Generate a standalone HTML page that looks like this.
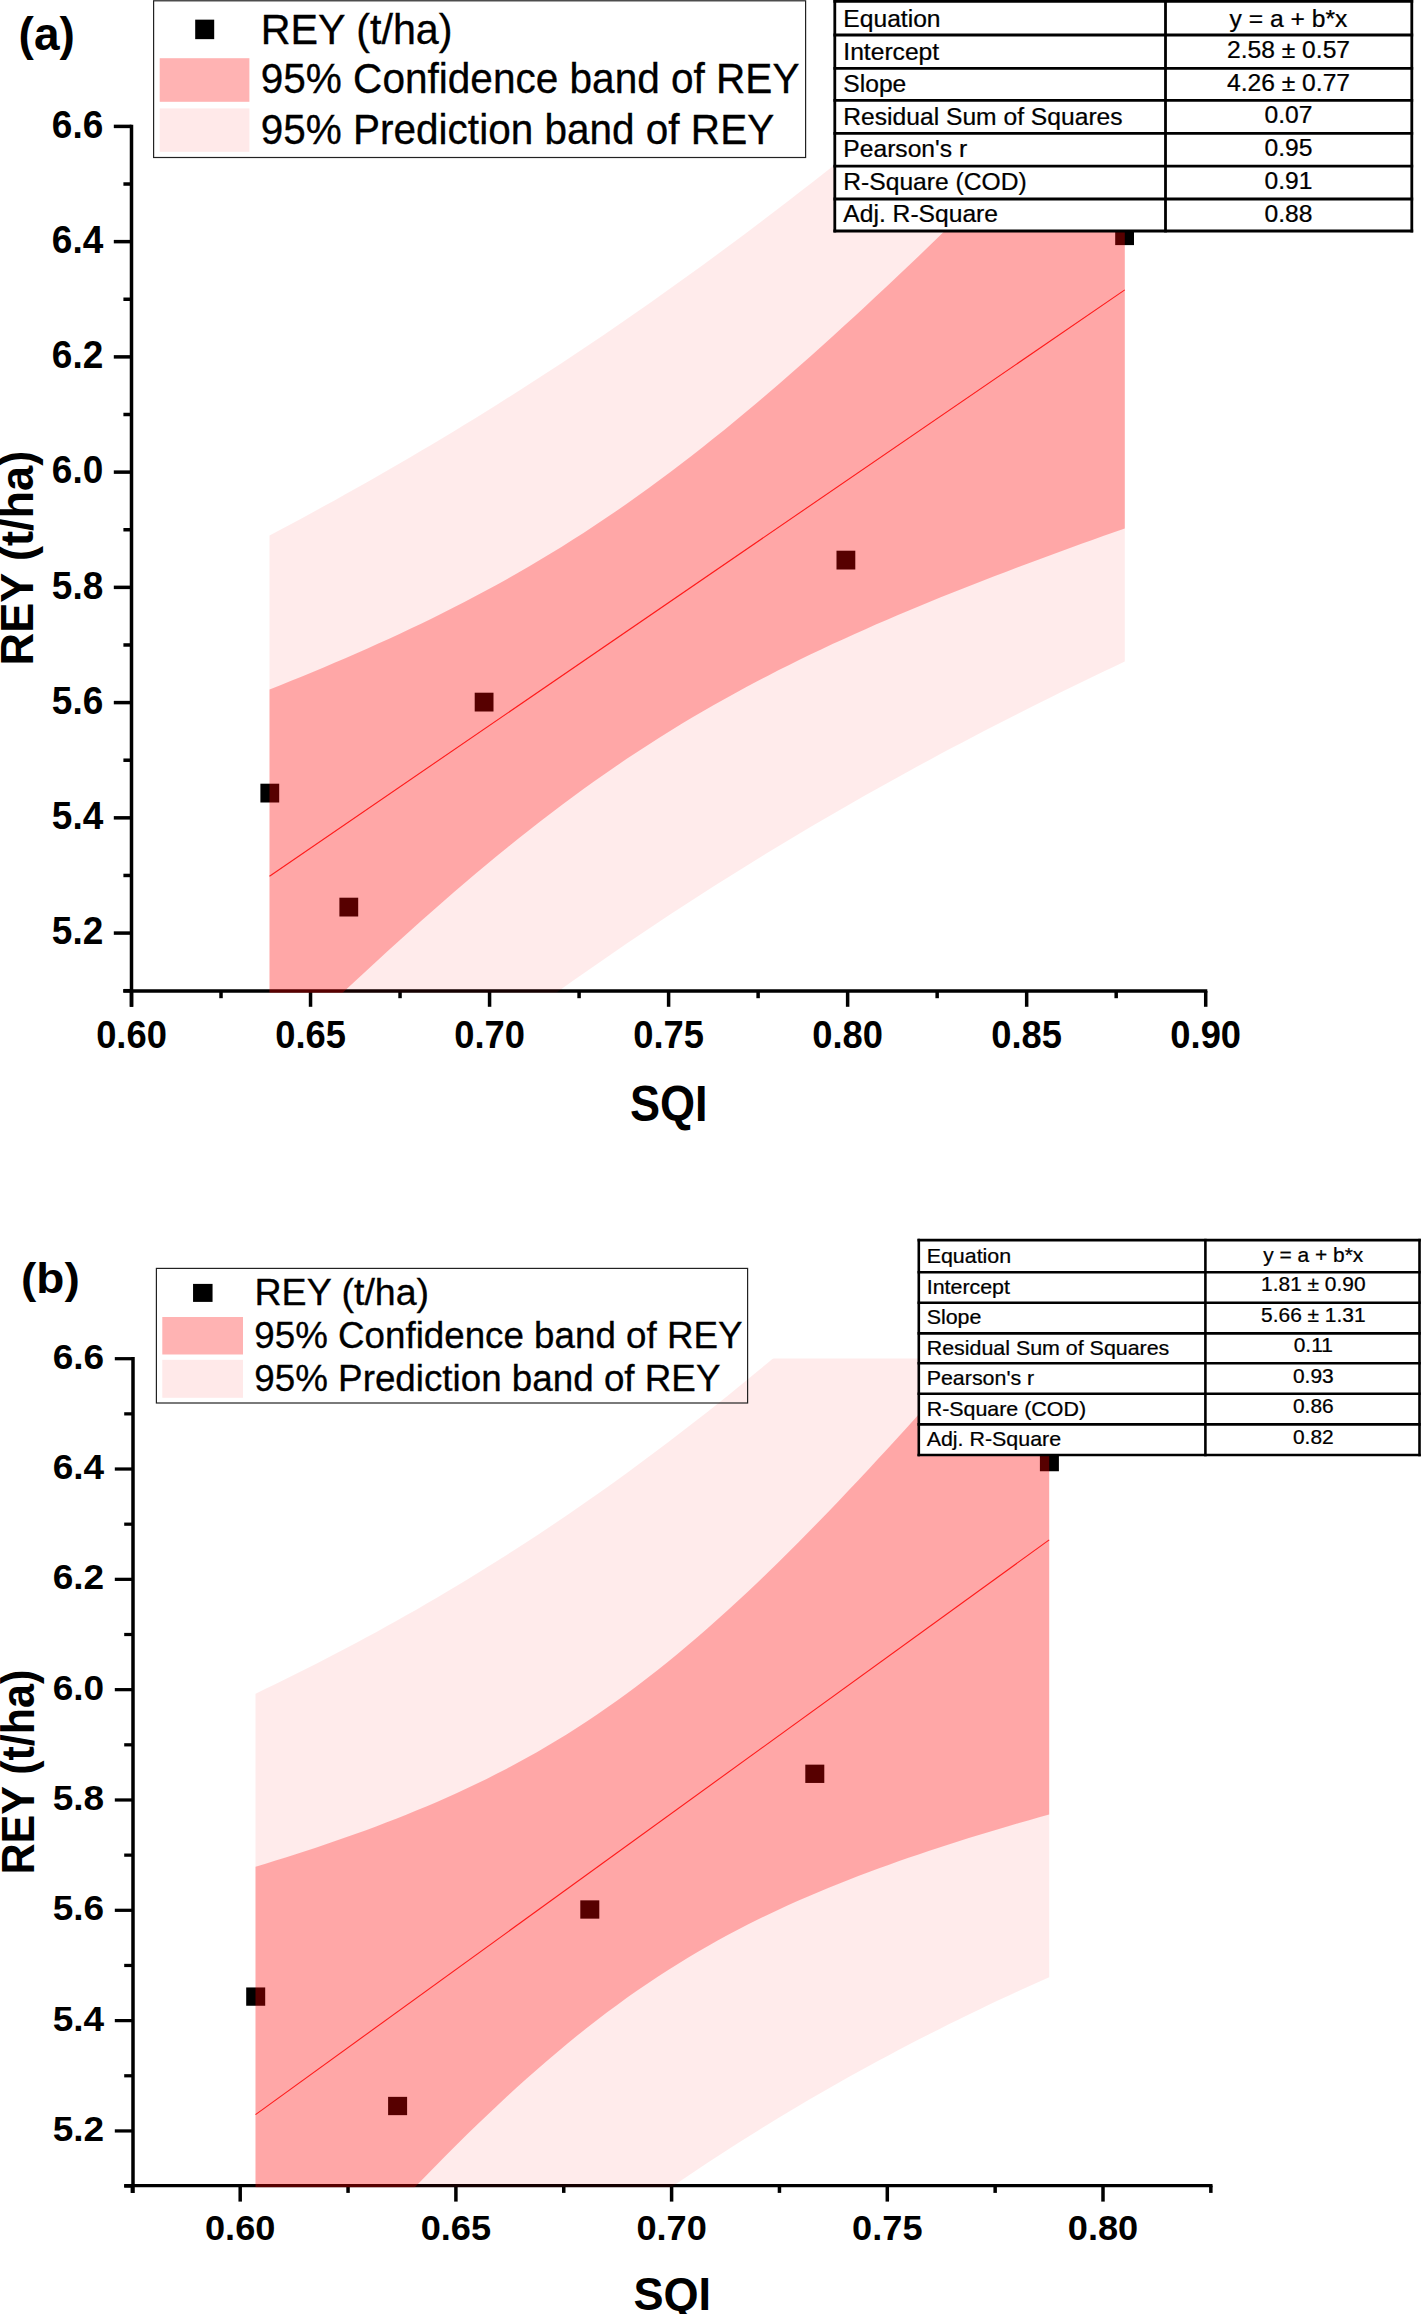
<!DOCTYPE html>
<html lang="en"><head><meta charset="utf-8"><title>REY vs SQI regression</title>
<style>html,body{margin:0;padding:0;background:#fff}body{width:1422px;height:2314px;overflow:hidden}svg{display:block}text{font-family:"Liberation Sans",Arial,Helvetica,sans-serif}</style></head><body>
<svg width="1422" height="2314" viewBox="0 0 1422 2314">
<rect x="0" y="0" width="1422" height="2314" fill="#fff"/>
<clipPath id="clipa"><rect x="0" y="126.4" width="1422" height="866.25"/></clipPath>
<g stroke="#000" stroke-width="3.5" fill="none" stroke-linecap="butt">
<line x1="131.5" y1="124.65" x2="131.5" y2="1006.8"/>
<line x1="123.3" y1="990.9" x2="1207.3" y2="990.9" stroke-width="3.5"/>
<line x1="113.8" y1="126.4" x2="131.5" y2="126.4" stroke-width="3.5"/>
<line x1="123.4" y1="184.02" x2="131.5" y2="184.02" stroke-width="3.5"/>
<line x1="113.8" y1="241.64" x2="131.5" y2="241.64" stroke-width="3.5"/>
<line x1="123.4" y1="299.26" x2="131.5" y2="299.26" stroke-width="3.5"/>
<line x1="113.8" y1="356.88" x2="131.5" y2="356.88" stroke-width="3.5"/>
<line x1="123.4" y1="414.5" x2="131.5" y2="414.5" stroke-width="3.5"/>
<line x1="113.8" y1="472.12" x2="131.5" y2="472.12" stroke-width="3.5"/>
<line x1="123.4" y1="529.74" x2="131.5" y2="529.74" stroke-width="3.5"/>
<line x1="113.8" y1="587.36" x2="131.5" y2="587.36" stroke-width="3.5"/>
<line x1="123.4" y1="644.98" x2="131.5" y2="644.98" stroke-width="3.5"/>
<line x1="113.8" y1="702.6" x2="131.5" y2="702.6" stroke-width="3.5"/>
<line x1="123.4" y1="760.22" x2="131.5" y2="760.22" stroke-width="3.5"/>
<line x1="113.8" y1="817.84" x2="131.5" y2="817.84" stroke-width="3.5"/>
<line x1="123.4" y1="875.46" x2="131.5" y2="875.46" stroke-width="3.5"/>
<line x1="113.8" y1="933.08" x2="131.5" y2="933.08" stroke-width="3.5"/>
<line x1="123.4" y1="990.7" x2="131.5" y2="990.7" stroke-width="3.5"/>
<line x1="131.5" y1="990.9" x2="131.5" y2="1006.8"/>
<line x1="221.02" y1="990.9" x2="221.02" y2="998.2"/>
<line x1="310.54" y1="990.9" x2="310.54" y2="1006.8"/>
<line x1="400.05" y1="990.9" x2="400.05" y2="998.2"/>
<line x1="489.57" y1="990.9" x2="489.57" y2="1006.8"/>
<line x1="579.09" y1="990.9" x2="579.09" y2="998.2"/>
<line x1="668.61" y1="990.9" x2="668.61" y2="1006.8"/>
<line x1="758.12" y1="990.9" x2="758.12" y2="998.2"/>
<line x1="847.64" y1="990.9" x2="847.64" y2="1006.8"/>
<line x1="937.16" y1="990.9" x2="937.16" y2="998.2"/>
<line x1="1026.67" y1="990.9" x2="1026.67" y2="1006.8"/>
<line x1="1116.19" y1="990.9" x2="1116.19" y2="998.2"/>
<line x1="1205.71" y1="990.9" x2="1205.71" y2="1006.8"/>
</g>
<rect x="260.4" y="783.7" width="18.8" height="18.8" fill="#000"/>
<rect x="339.4" y="897.7" width="18.8" height="18.8" fill="#000"/>
<rect x="474.7" y="692.7" width="18.8" height="18.8" fill="#000"/>
<rect x="836.5" y="550.7" width="18.8" height="18.8" fill="#000"/>
<rect x="1115.2" y="226.3" width="18.8" height="18.8" fill="#000"/>
<g clip-path="url(#clipa)">
<polygon points="269.5,535.47 280.33,529.74 291.15,523.96 301.98,518.14 312.81,512.27 323.63,506.35 334.46,500.38 345.29,494.37 356.11,488.3 366.94,482.19 377.77,476.02 388.59,469.8 399.42,463.53 410.25,457.21 421.07,450.83 431.9,444.4 442.73,437.92 453.55,431.38 464.38,424.78 475.21,418.13 486.03,411.43 496.86,404.67 507.68,397.85 518.51,390.97 529.34,384.04 540.16,377.05 550.99,370 561.82,362.89 572.64,355.73 583.47,348.5 594.3,341.22 605.12,333.88 615.95,326.48 626.78,319.02 637.6,311.51 648.43,303.93 659.26,296.3 670.08,288.61 680.91,280.86 691.74,273.05 702.56,265.18 713.39,257.26 724.22,249.28 735.04,241.24 745.87,233.15 756.7,225 767.52,216.79 778.35,208.53 789.18,200.21 800,191.84 810.83,183.41 821.66,174.94 832.48,166.4 843.31,157.82 854.14,149.18 864.96,140.49 875.79,131.75 886.62,122.96 897.44,114.13 908.27,105.24 919.09,96.3 929.92,87.32 940.75,78.29 951.57,69.21 962.4,60.09 973.23,50.92 984.05,41.71 994.88,32.45 1005.71,23.16 1016.53,13.82 1027.36,4.43 1038.19,-4.99 1049.01,-14.45 1059.84,-23.96 1070.67,-33.5 1081.49,-43.08 1092.32,-52.69 1103.15,-62.35 1113.97,-72.04 1124.8,-81.76 1124.8,661.59 1113.97,666.71 1103.15,671.87 1092.32,677.06 1081.49,682.28 1070.67,687.54 1059.84,692.85 1049.01,698.19 1038.19,703.57 1027.36,708.99 1016.53,714.45 1005.71,719.95 994.88,725.49 984.05,731.08 973.23,736.71 962.4,742.39 951.57,748.11 940.75,753.87 929.92,759.69 919.09,765.54 908.27,771.45 897.44,777.41 886.62,783.41 875.79,789.46 864.96,795.57 854.14,801.72 843.31,807.93 832.48,814.19 821.66,820.5 810.83,826.86 800,833.28 789.18,839.75 778.35,846.27 767.52,852.85 756.7,859.49 745.87,866.18 735.04,872.93 724.22,879.74 713.39,886.6 702.56,893.52 691.74,900.49 680.91,907.53 670.08,914.62 659.26,921.77 648.43,928.98 637.6,936.25 626.78,943.58 615.95,950.96 605.12,958.41 594.3,965.91 583.47,973.47 572.64,981.09 561.82,988.77 550.99,996.5 540.16,1004.3 529.34,1012.15 518.51,1020.06 507.68,1028.02 496.86,1036.05 486.03,1044.13 475.21,1052.26 464.38,1060.46 453.55,1068.71 442.73,1077.01 431.9,1085.37 421.07,1093.78 410.25,1102.25 399.42,1110.77 388.59,1119.34 377.77,1127.96 366.94,1136.64 356.11,1145.37 345.29,1154.14 334.46,1162.97 323.63,1171.85 312.81,1180.77 301.98,1189.74 291.15,1198.76 280.33,1207.83 269.5,1216.94" fill="#ff0000" fill-opacity="0.078"/>
<polygon points="269.5,689.51 280.33,685.19 291.15,680.83 301.98,676.41 312.81,671.94 323.63,667.41 334.46,662.83 345.29,658.18 356.11,653.47 366.94,648.69 377.77,643.84 388.59,638.91 399.42,633.91 410.25,628.82 421.07,623.64 431.9,618.38 442.73,613.02 453.55,607.56 464.38,602 475.21,596.33 486.03,590.55 496.86,584.65 507.68,578.64 518.51,572.5 529.34,566.24 540.16,559.85 550.99,553.32 561.82,546.66 572.64,539.86 583.47,532.92 594.3,525.84 605.12,518.62 615.95,511.25 626.78,503.74 637.6,496.08 648.43,488.29 659.26,480.35 670.08,472.27 680.91,464.06 691.74,455.71 702.56,447.23 713.39,438.62 724.22,429.88 735.04,421.02 745.87,412.05 756.7,402.96 767.52,393.76 778.35,384.45 789.18,375.04 800,365.54 810.83,355.94 821.66,346.25 832.48,336.47 843.31,326.62 854.14,316.68 864.96,306.67 875.79,296.59 886.62,286.45 897.44,276.24 908.27,265.96 919.09,255.63 929.92,245.25 940.75,234.81 951.57,224.32 962.4,213.79 973.23,203.21 984.05,192.58 994.88,181.92 1005.71,171.21 1016.53,160.47 1027.36,149.7 1038.19,138.89 1049.01,128.05 1059.84,117.18 1070.67,106.27 1081.49,95.35 1092.32,84.39 1103.15,73.41 1113.97,62.41 1124.8,51.38 1124.8,528.45 1113.97,532.27 1103.15,536.11 1092.32,539.97 1081.49,543.86 1070.67,547.77 1059.84,551.72 1049.01,555.69 1038.19,559.69 1027.36,563.72 1016.53,567.79 1005.71,571.89 994.88,576.03 984.05,580.21 973.23,584.43 962.4,588.69 951.57,593 940.75,597.35 929.92,601.76 919.09,606.21 908.27,610.73 897.44,615.3 886.62,619.93 875.79,624.62 864.96,629.39 854.14,634.22 843.31,639.13 832.48,644.12 821.66,649.18 810.83,654.34 800,659.58 789.18,664.92 778.35,670.35 767.52,675.89 756.7,681.53 745.87,687.28 735.04,693.15 724.22,699.13 713.39,705.24 702.56,711.47 691.74,717.83 680.91,724.33 670.08,730.96 659.26,737.72 648.43,744.63 637.6,751.67 626.78,758.86 615.95,766.19 605.12,773.67 594.3,781.29 583.47,789.05 572.64,796.95 561.82,805 550.99,813.18 540.16,821.5 529.34,829.95 518.51,838.53 507.68,847.23 496.86,856.06 486.03,865.01 475.21,874.07 464.38,883.25 453.55,892.53 442.73,901.91 431.9,911.39 421.07,920.97 410.25,930.64 399.42,940.39 388.59,950.23 377.77,960.15 366.94,970.14 356.11,980.2 345.29,990.33 334.46,1000.53 323.63,1010.78 312.81,1021.1 301.98,1031.47 291.15,1041.9 280.33,1052.37 269.5,1062.9" fill="#ff0000" fill-opacity="0.285"/>
<line x1="269.5" y1="876.21" x2="1124.8" y2="289.92" stroke="#ff1a1a" stroke-width="1.1"/>
</g>
<g font-weight="bold" font-size="37" fill="#000">
<text transform="translate(103.3,137.7) scale(1,1.03)" text-anchor="end">6.6</text>
<text transform="translate(103.3,252.94) scale(1,1.03)" text-anchor="end">6.4</text>
<text transform="translate(103.3,368.18) scale(1,1.03)" text-anchor="end">6.2</text>
<text transform="translate(103.3,483.42) scale(1,1.03)" text-anchor="end">6.0</text>
<text transform="translate(103.3,598.66) scale(1,1.03)" text-anchor="end">5.8</text>
<text transform="translate(103.3,713.9) scale(1,1.03)" text-anchor="end">5.6</text>
<text transform="translate(103.3,829.14) scale(1,1.03)" text-anchor="end">5.4</text>
<text transform="translate(103.3,944.38) scale(1,1.03)" text-anchor="end">5.2</text>
<text transform="translate(131.5,1047.9) scale(0.982,1.03)" text-anchor="middle">0.60</text>
<text transform="translate(310.54,1047.9) scale(0.982,1.03)" text-anchor="middle">0.65</text>
<text transform="translate(489.57,1047.9) scale(0.982,1.03)" text-anchor="middle">0.70</text>
<text transform="translate(668.61,1047.9) scale(0.982,1.03)" text-anchor="middle">0.75</text>
<text transform="translate(847.64,1047.9) scale(0.982,1.03)" text-anchor="middle">0.80</text>
<text transform="translate(1026.67,1047.9) scale(0.982,1.03)" text-anchor="middle">0.85</text>
<text transform="translate(1205.71,1047.9) scale(0.982,1.03)" text-anchor="middle">0.90</text>
</g>
<text transform="translate(668.8,1121.2) scale(1,1.09)" text-anchor="middle" font-weight="bold" font-size="45.1">SQI</text>
<text transform="translate(33.1,558.1) scale(1.026,1) rotate(-90)" text-anchor="middle" font-weight="bold" font-size="45.1">REY (t/ha)</text>
<text transform="translate(18.6,49.5) scale(1,1)" font-weight="bold" font-size="46">(a)</text>
<rect x="153.6" y="0.8" width="652" height="156.7" fill="none" stroke="#222" stroke-width="1.2"/>
<rect x="195.2" y="19.65" width="19" height="19.5" fill="#000"/>
<rect x="159.7" y="58.2" width="89.7" height="43.6" fill="#ffb3b3"/>
<rect x="159.7" y="108.4" width="89.7" height="43.4" fill="#ffe9e9"/>
<g font-size="39" fill="#000" stroke="#000" stroke-width="0.3">
<text transform="translate(260.7,44.05) scale(1.058,1.1)">REY (t/ha)</text>
<text transform="translate(260.7,93.35) scale(1.04,1.1)">95% Confidence band of REY</text>
<text transform="translate(260.7,143.85) scale(1.039,1.1)">95% Prediction band of REY</text>
</g>
<rect x="834.8" y="1.4" width="577" height="229.6" fill="#fff"/>
<g stroke="#000" stroke-width="2.8" fill="none" stroke-linecap="square">
<line x1="834.8" y1="1.4" x2="1411.8" y2="1.4"/>
<line x1="834.8" y1="35" x2="1411.8" y2="35"/>
<line x1="834.8" y1="68.4" x2="1411.8" y2="68.4"/>
<line x1="834.8" y1="100.4" x2="1411.8" y2="100.4"/>
<line x1="834.8" y1="133.3" x2="1411.8" y2="133.3"/>
<line x1="834.8" y1="166.2" x2="1411.8" y2="166.2"/>
<line x1="834.8" y1="199" x2="1411.8" y2="199"/>
<line x1="834.8" y1="231" x2="1411.8" y2="231"/>
<line x1="834.8" y1="1.4" x2="834.8" y2="231"/>
<line x1="1165.5" y1="1.4" x2="1165.5" y2="231"/>
<line x1="1411.8" y1="1.4" x2="1411.8" y2="231"/>
</g>
<g font-size="23.8" fill="#000" stroke="#000" stroke-width="0.25">
<text transform="translate(843.3,27) scale(1.035,1)">Equation</text>
<text transform="translate(1288.5,26.7) scale(1.035,1)" text-anchor="middle">y = a + b*x</text>
<text transform="translate(843.3,59.53) scale(1.035,1)">Intercept</text>
<text transform="translate(1288.5,57.95) scale(1.035,1)" text-anchor="middle">2.58 ± 0.57</text>
<text transform="translate(843.3,92.06) scale(1.035,1)">Slope</text>
<text transform="translate(1288.5,90.7) scale(1.035,1)" text-anchor="middle">4.26 ± 0.77</text>
<text transform="translate(843.3,124.59) scale(1.035,1)">Residual Sum of Squares</text>
<text transform="translate(1288.5,123.45) scale(1.035,1)" text-anchor="middle">0.07</text>
<text transform="translate(843.3,157.12) scale(1.035,1)">Pearson's r</text>
<text transform="translate(1288.5,156.2) scale(1.035,1)" text-anchor="middle">0.95</text>
<text transform="translate(843.3,189.65) scale(1.035,1)">R-Square (COD)</text>
<text transform="translate(1288.5,188.95) scale(1.035,1)" text-anchor="middle">0.91</text>
<text transform="translate(843.3,222.18) scale(1.035,1)">Adj. R-Square</text>
<text transform="translate(1288.5,221.7) scale(1.035,1)" text-anchor="middle">0.88</text>
</g>
<clipPath id="clipb"><rect x="0" y="1358.5" width="1422" height="828.72"/></clipPath>
<g stroke="#000" stroke-width="3.5" fill="none" stroke-linecap="butt">
<line x1="133" y1="1357.08" x2="133" y2="2193"/>
<line x1="124.2" y1="2185.6" x2="1212.5" y2="2185.6" stroke-width="3.25"/>
<line x1="114.8" y1="1358.7" x2="133" y2="1358.7" stroke-width="3.25"/>
<line x1="124.2" y1="1413.86" x2="133" y2="1413.86" stroke-width="3.25"/>
<line x1="114.8" y1="1469.02" x2="133" y2="1469.02" stroke-width="3.25"/>
<line x1="124.2" y1="1524.18" x2="133" y2="1524.18" stroke-width="3.25"/>
<line x1="114.8" y1="1579.34" x2="133" y2="1579.34" stroke-width="3.25"/>
<line x1="124.2" y1="1634.5" x2="133" y2="1634.5" stroke-width="3.25"/>
<line x1="114.8" y1="1689.66" x2="133" y2="1689.66" stroke-width="3.25"/>
<line x1="124.2" y1="1744.82" x2="133" y2="1744.82" stroke-width="3.25"/>
<line x1="114.8" y1="1799.98" x2="133" y2="1799.98" stroke-width="3.25"/>
<line x1="124.2" y1="1855.14" x2="133" y2="1855.14" stroke-width="3.25"/>
<line x1="114.8" y1="1910.3" x2="133" y2="1910.3" stroke-width="3.25"/>
<line x1="124.2" y1="1965.46" x2="133" y2="1965.46" stroke-width="3.25"/>
<line x1="114.8" y1="2020.62" x2="133" y2="2020.62" stroke-width="3.25"/>
<line x1="124.2" y1="2075.78" x2="133" y2="2075.78" stroke-width="3.25"/>
<line x1="114.8" y1="2130.94" x2="133" y2="2130.94" stroke-width="3.25"/>
<line x1="124.2" y1="2186.1" x2="133" y2="2186.1" stroke-width="3.25"/>
<line x1="132.35" y1="2185.6" x2="132.35" y2="2192.9"/>
<line x1="240.2" y1="2185.6" x2="240.2" y2="2201.6"/>
<line x1="348.05" y1="2185.6" x2="348.05" y2="2192.9"/>
<line x1="455.9" y1="2185.6" x2="455.9" y2="2201.6"/>
<line x1="563.75" y1="2185.6" x2="563.75" y2="2192.9"/>
<line x1="671.6" y1="2185.6" x2="671.6" y2="2201.6"/>
<line x1="779.45" y1="2185.6" x2="779.45" y2="2192.9"/>
<line x1="887.3" y1="2185.6" x2="887.3" y2="2201.6"/>
<line x1="995.15" y1="2185.6" x2="995.15" y2="2192.9"/>
<line x1="1103" y1="2185.6" x2="1103" y2="2201.6"/>
<line x1="1210.85" y1="2185.6" x2="1210.85" y2="2192.9"/>
</g>
<rect x="246.2" y="1987.45" width="19" height="18.3" fill="#000"/>
<rect x="388.1" y="2096.85" width="19" height="18.3" fill="#000"/>
<rect x="580.3" y="1900.35" width="19" height="18.3" fill="#000"/>
<rect x="805.3" y="1764.65" width="19" height="18.3" fill="#000"/>
<rect x="1039.9" y="1452.95" width="19" height="18.3" fill="#000"/>
<g clip-path="url(#clipb)">
<polygon points="255.5,1693.64 265.55,1688.84 275.59,1683.98 285.64,1679.06 295.69,1674.08 305.73,1669.05 315.78,1663.96 325.83,1658.81 335.87,1653.6 345.92,1648.33 355.97,1643 366.02,1637.6 376.06,1632.14 386.11,1626.62 396.16,1621.03 406.2,1615.37 416.25,1609.64 426.3,1603.85 436.34,1597.99 446.39,1592.06 456.44,1586.05 466.48,1579.98 476.53,1573.83 486.58,1567.61 496.62,1561.32 506.67,1554.96 516.72,1548.52 526.76,1542 536.81,1535.41 546.86,1528.75 556.91,1522.01 566.95,1515.19 577,1508.29 587.05,1501.32 597.09,1494.27 607.14,1487.15 617.19,1479.94 627.23,1472.66 637.28,1465.31 647.33,1457.87 657.37,1450.36 667.42,1442.77 677.47,1435.1 687.51,1427.36 697.56,1419.54 707.61,1411.65 717.65,1403.68 727.7,1395.63 737.75,1387.51 747.79,1379.32 757.84,1371.05 767.89,1362.71 777.94,1354.29 787.98,1345.81 798.03,1337.25 808.08,1328.62 818.12,1319.93 828.17,1311.16 838.22,1302.33 848.26,1293.42 858.31,1284.46 868.36,1275.42 878.4,1266.32 888.45,1257.16 898.5,1247.94 908.54,1238.65 918.59,1229.3 928.64,1219.89 938.68,1210.42 948.73,1200.9 958.78,1191.31 968.83,1181.67 978.87,1171.98 988.92,1162.23 998.97,1152.42 1009.01,1142.57 1019.06,1132.66 1029.11,1122.7 1039.15,1112.69 1049.2,1102.64 1049.2,1977.14 1039.15,1981.63 1029.11,1986.17 1019.06,1990.76 1009.01,1995.41 998.97,2000.1 988.92,2004.84 978.87,2009.64 968.83,2014.5 958.78,2019.4 948.73,2024.37 938.68,2029.39 928.64,2034.47 918.59,2039.61 908.54,2044.81 898.5,2050.08 888.45,2055.4 878.4,2060.79 868.36,2066.24 858.31,2071.75 848.26,2077.33 838.22,2082.98 828.17,2088.7 818.12,2094.48 808.08,2100.33 798.03,2106.25 787.98,2112.25 777.94,2118.31 767.89,2124.45 757.84,2130.65 747.79,2136.93 737.75,2143.29 727.7,2149.72 717.65,2156.22 707.61,2162.8 697.56,2169.45 687.51,2176.18 677.47,2182.99 667.42,2189.87 657.37,2196.83 647.33,2203.87 637.28,2210.98 627.23,2218.18 617.19,2225.45 607.14,2232.79 597.09,2240.21 587.05,2247.72 577,2255.29 566.95,2262.95 556.91,2270.68 546.86,2278.49 536.81,2286.37 526.76,2294.33 516.72,2302.36 506.67,2310.47 496.62,2318.66 486.58,2326.91 476.53,2335.24 466.48,2343.65 456.44,2352.12 446.39,2360.67 436.34,2369.29 426.3,2377.97 416.25,2386.73 406.2,2395.55 396.16,2404.44 386.11,2413.4 376.06,2422.42 366.02,2431.51 355.97,2440.67 345.92,2449.88 335.87,2459.16 325.83,2468.5 315.78,2477.9 305.73,2487.36 295.69,2496.88 285.64,2506.45 275.59,2516.08 265.55,2525.77 255.5,2535.51" fill="#ff0000" fill-opacity="0.078"/>
<polygon points="255.5,1866.78 265.55,1863.72 275.59,1860.61 285.64,1857.46 295.69,1854.25 305.73,1851 315.78,1847.68 325.83,1844.3 335.87,1840.86 345.92,1837.36 355.97,1833.78 366.02,1830.13 376.06,1826.4 386.11,1822.59 396.16,1818.69 406.2,1814.7 416.25,1810.61 426.3,1806.43 436.34,1802.13 446.39,1797.73 456.44,1793.21 466.48,1788.56 476.53,1783.79 486.58,1778.88 496.62,1773.84 506.67,1768.64 516.72,1763.3 526.76,1757.8 536.81,1752.14 546.86,1746.31 556.91,1740.31 566.95,1734.13 577,1727.78 587.05,1721.24 597.09,1714.52 607.14,1707.6 617.19,1700.51 627.23,1693.22 637.28,1685.74 647.33,1678.07 657.37,1670.22 667.42,1662.18 677.47,1653.96 687.51,1645.56 697.56,1636.99 707.61,1628.24 717.65,1619.33 727.7,1610.26 737.75,1601.03 747.79,1591.65 757.84,1582.13 767.89,1572.46 777.94,1562.67 787.98,1552.74 798.03,1542.7 808.08,1532.54 818.12,1522.27 828.17,1511.89 838.22,1501.41 848.26,1490.84 858.31,1480.17 868.36,1469.42 878.4,1458.59 888.45,1447.68 898.5,1436.7 908.54,1425.64 918.59,1414.52 928.64,1403.34 938.68,1392.1 948.73,1380.8 958.78,1369.45 968.83,1358.05 978.87,1346.6 988.92,1335.1 998.97,1323.56 1009.01,1311.98 1019.06,1300.36 1029.11,1288.7 1039.15,1277.01 1049.2,1265.28 1049.2,1814.49 1039.15,1817.32 1029.11,1820.17 1019.06,1823.06 1009.01,1825.99 998.97,1828.96 988.92,1831.97 978.87,1835.02 968.83,1838.12 958.78,1841.27 948.73,1844.46 938.68,1847.72 928.64,1851.02 918.59,1854.39 908.54,1857.82 898.5,1861.32 888.45,1864.88 878.4,1868.52 868.36,1872.24 858.31,1876.04 848.26,1879.92 838.22,1883.9 828.17,1887.97 818.12,1892.14 808.08,1896.42 798.03,1900.81 787.98,1905.31 777.94,1909.94 767.89,1914.69 757.84,1919.58 747.79,1924.6 737.75,1929.77 727.7,1935.09 717.65,1940.57 707.61,1946.21 697.56,1952.01 687.51,1957.99 677.47,1964.13 667.42,1970.46 657.37,1976.97 647.33,1983.67 637.28,1990.55 627.23,1997.62 617.19,2004.88 607.14,2012.33 597.09,2019.97 587.05,2027.8 577,2035.81 566.95,2044 556.91,2052.38 546.86,2060.92 536.81,2069.64 526.76,2078.53 516.72,2087.58 506.67,2096.79 496.62,2106.14 486.58,2115.65 476.53,2125.29 466.48,2135.06 456.44,2144.97 446.39,2154.99 436.34,2165.14 426.3,2175.39 416.25,2185.76 406.2,2196.22 396.16,2206.78 386.11,2217.43 376.06,2228.17 366.02,2238.99 355.97,2249.89 345.92,2260.86 335.87,2271.9 325.83,2283.01 315.78,2294.18 305.73,2305.42 295.69,2316.71 285.64,2328.05 275.59,2339.45 265.55,2350.89 255.5,2362.38" fill="#ff0000" fill-opacity="0.285"/>
<line x1="255.5" y1="2114.58" x2="1049.2" y2="1539.89" stroke="#ff1a1a" stroke-width="1.1"/>
</g>
<g font-weight="bold" font-size="37" fill="#000">
<text transform="translate(104.1,1368.8) scale(1,0.96)" text-anchor="end">6.6</text>
<text transform="translate(104.1,1479.12) scale(1,0.96)" text-anchor="end">6.4</text>
<text transform="translate(104.1,1589.44) scale(1,0.96)" text-anchor="end">6.2</text>
<text transform="translate(104.1,1699.76) scale(1,0.96)" text-anchor="end">6.0</text>
<text transform="translate(104.1,1810.08) scale(1,0.96)" text-anchor="end">5.8</text>
<text transform="translate(104.1,1920.4) scale(1,0.96)" text-anchor="end">5.6</text>
<text transform="translate(104.1,2030.72) scale(1,0.96)" text-anchor="end">5.4</text>
<text transform="translate(104.1,2141.04) scale(1,0.96)" text-anchor="end">5.2</text>
<text transform="translate(240.2,2240.2) scale(0.978,0.9625)" text-anchor="middle">0.60</text>
<text transform="translate(455.9,2240.2) scale(0.978,0.9625)" text-anchor="middle">0.65</text>
<text transform="translate(671.6,2240.2) scale(0.978,0.9625)" text-anchor="middle">0.70</text>
<text transform="translate(887.3,2240.2) scale(0.978,0.9625)" text-anchor="middle">0.75</text>
<text transform="translate(1103,2240.2) scale(0.978,0.9625)" text-anchor="middle">0.80</text>
</g>
<text transform="translate(672.3,2309.5) scale(1,1.012)" text-anchor="middle" font-weight="bold" font-size="45.1">SQI</text>
<text transform="translate(33.5,1772.1) scale(1.04,0.9546) rotate(-90)" text-anchor="middle" font-weight="bold" font-size="45.1">REY (t/ha)</text>
<text transform="translate(21,1292.7) scale(1,0.94)" font-weight="bold" font-size="46">(b)</text>
<rect x="156.4" y="1268.4" width="591.2" height="134.6" fill="none" stroke="#222" stroke-width="1.2"/>
<rect x="193.05" y="1283.9" width="19.5" height="18" fill="#000"/>
<rect x="162.3" y="1317" width="80.7" height="37.5" fill="#ffb3b3"/>
<rect x="162.3" y="1359.8" width="80.7" height="38" fill="#ffe9e9"/>
<g font-size="36.3" fill="#000" stroke="#000" stroke-width="0.3">
<text transform="translate(254.45,1304.55) scale(1.035,1.029)">REY (t/ha)</text>
<text transform="translate(254.27,1347.85) scale(1.0124,1.029)">95% Confidence band of REY</text>
<text transform="translate(254.27,1390.9) scale(1.0135,1.029)">95% Prediction band of REY</text>
</g>
<rect x="918.8" y="1240.1" width="500.7" height="214.9" fill="#fff"/>
<g stroke="#000" stroke-width="2.6" fill="none" stroke-linecap="square">
<line x1="918.8" y1="1240.1" x2="1419.5" y2="1240.1"/>
<line x1="918.8" y1="1272.2" x2="1419.5" y2="1272.2"/>
<line x1="918.8" y1="1302.8" x2="1419.5" y2="1302.8"/>
<line x1="918.8" y1="1333.4" x2="1419.5" y2="1333.4"/>
<line x1="918.8" y1="1363.2" x2="1419.5" y2="1363.2"/>
<line x1="918.8" y1="1393.8" x2="1419.5" y2="1393.8"/>
<line x1="918.8" y1="1424.4" x2="1419.5" y2="1424.4"/>
<line x1="918.8" y1="1455" x2="1419.5" y2="1455"/>
<line x1="918.8" y1="1240.1" x2="918.8" y2="1455"/>
<line x1="1205.4" y1="1240.1" x2="1205.4" y2="1455"/>
<line x1="1419.5" y1="1240.1" x2="1419.5" y2="1455"/>
</g>
<g font-size="21.2" fill="#000" stroke="#000" stroke-width="0.25">
<text transform="translate(926.7,1263.2) scale(1.01,0.945)">Equation</text>
<text transform="translate(1313.3,1261.9) scale(0.987,0.945)" text-anchor="middle">y = a + b*x</text>
<text transform="translate(926.7,1293.68) scale(1.01,0.945)">Intercept</text>
<text transform="translate(1313.3,1290.98) scale(0.987,0.945)" text-anchor="middle">1.81 ± 0.90</text>
<text transform="translate(926.7,1324.16) scale(1.01,0.945)">Slope</text>
<text transform="translate(1313.3,1321.56) scale(0.987,0.945)" text-anchor="middle">5.66 ± 1.31</text>
<text transform="translate(926.7,1354.64) scale(1.01,0.945)">Residual Sum of Squares</text>
<text transform="translate(1313.3,1352.14) scale(0.987,0.945)" text-anchor="middle">0.11</text>
<text transform="translate(926.7,1385.12) scale(1.01,0.945)">Pearson's r</text>
<text transform="translate(1313.3,1382.72) scale(0.987,0.945)" text-anchor="middle">0.93</text>
<text transform="translate(926.7,1415.6) scale(1.01,0.945)">R-Square (COD)</text>
<text transform="translate(1313.3,1413.3) scale(0.987,0.945)" text-anchor="middle">0.86</text>
<text transform="translate(926.7,1446.08) scale(1.01,0.945)">Adj. R-Square</text>
<text transform="translate(1313.3,1443.88) scale(0.987,0.945)" text-anchor="middle">0.82</text>
</g>
</svg></body></html>
